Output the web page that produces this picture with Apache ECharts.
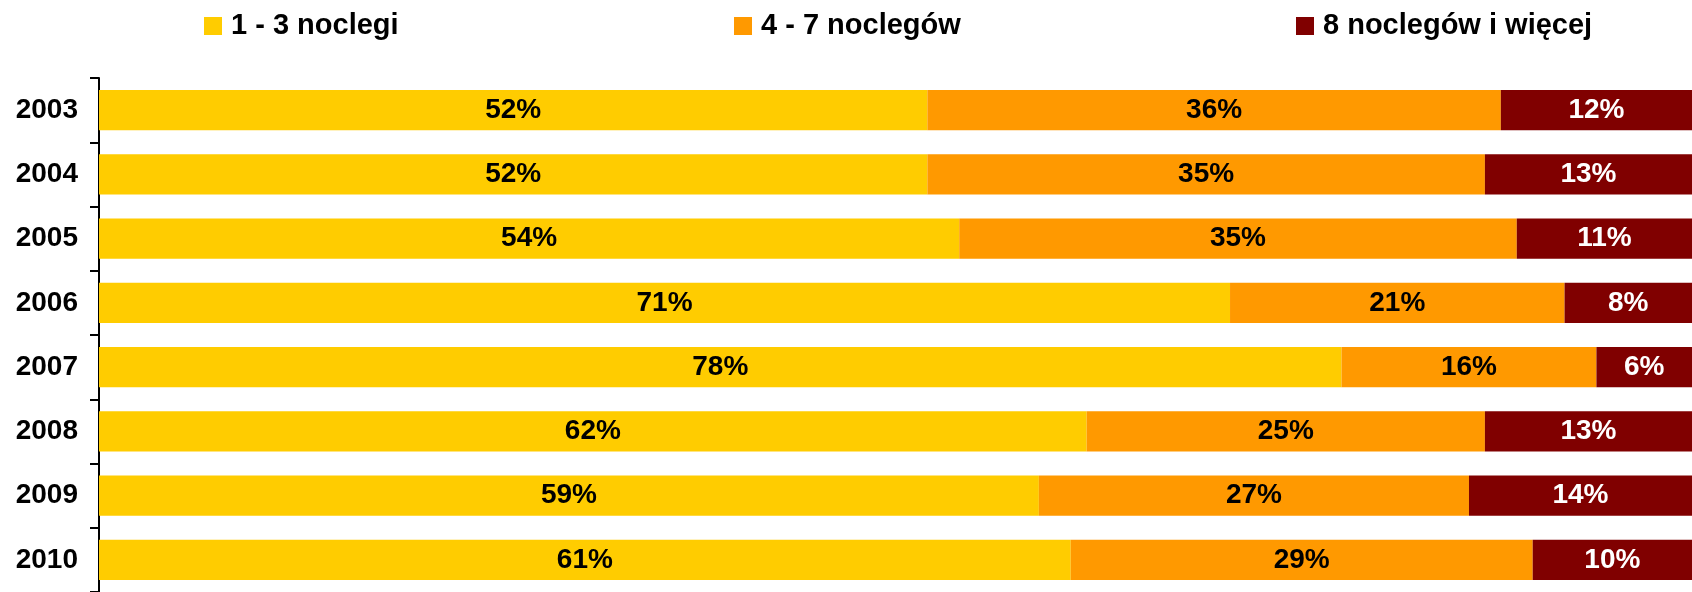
<!DOCTYPE html>
<html>
<head>
<meta charset="utf-8">
<script src="https://cdn.jsdelivr.net/npm/echarts@6/dist/echarts.min.js"></script>
<style>
html,body{margin:0;padding:0;background:#fff;}
#chart{width:1692px;height:592px;}
</style>
</head>
<body>
<div id="chart"></div>
<script>
const years = ['2003','2004','2005','2006','2007','2008','2009','2010'];
const seriesNames = ['1 - 3 noclegi','4 - 7 noclegów','8 noclegów i więcej'];
const short = [52,52,54,71,78,62,59,61];
const medium = [36,35,35,21,16,25,27,29];
const long = [12,13,11,8,6,13,14,10];
const colors = ['#FFCC00','#FF9900','#800000'];
const labelColors = ['#000000','#000000','#FFFFFF'];
const legendLefts = [204,734,1296];

const FONT = '"Liberation Sans", Arial, sans-serif';
const chart = echarts.init(document.getElementById('chart'));
const values = [short, medium, long];

chart.setOption({
  animation:false,
  backgroundColor:'#fff',
  legend: seriesNames.map((n,i)=>({
    data:[n], left:legendLefts[i], top:8, padding:0,
    itemWidth:18, itemHeight:18, icon:'rect',
    textStyle:{fontFamily:FONT,fontSize:29,fontWeight:'bold',color:'#000',lineHeight:36,padding:[0,0,0,4]}
  })),
  grid:{left:99, right:-13, top:78, bottom:-4, containLabel:false},
  xAxis:{type:'value', min:0, max:100, show:false, splitLine:{show:false}},
  yAxis:{
    type:'category', data:years, inverse:true,
    axisLine:{show:true, lineStyle:{color:'#000', width:2}},
    axisTick:{show:true, length:9, lineStyle:{color:'#000', width:2}},
    axisLabel:{fontFamily:FONT, fontSize:28, fontWeight:'bold', color:'#000', margin:21}
  },
  series: seriesNames.map((n,i)=>({
    name:n, type:'bar', stack:'total', data:values[i],
    barCategoryGap:'37%',
    itemStyle:{color:colors[i]},
    label:{show:true, position:'inside', formatter:'{c}%', fontFamily:FONT, fontSize:28, fontWeight:'bold', color:labelColors[i]},
    z: 2
  }))
});
</script>
</body>
</html>
